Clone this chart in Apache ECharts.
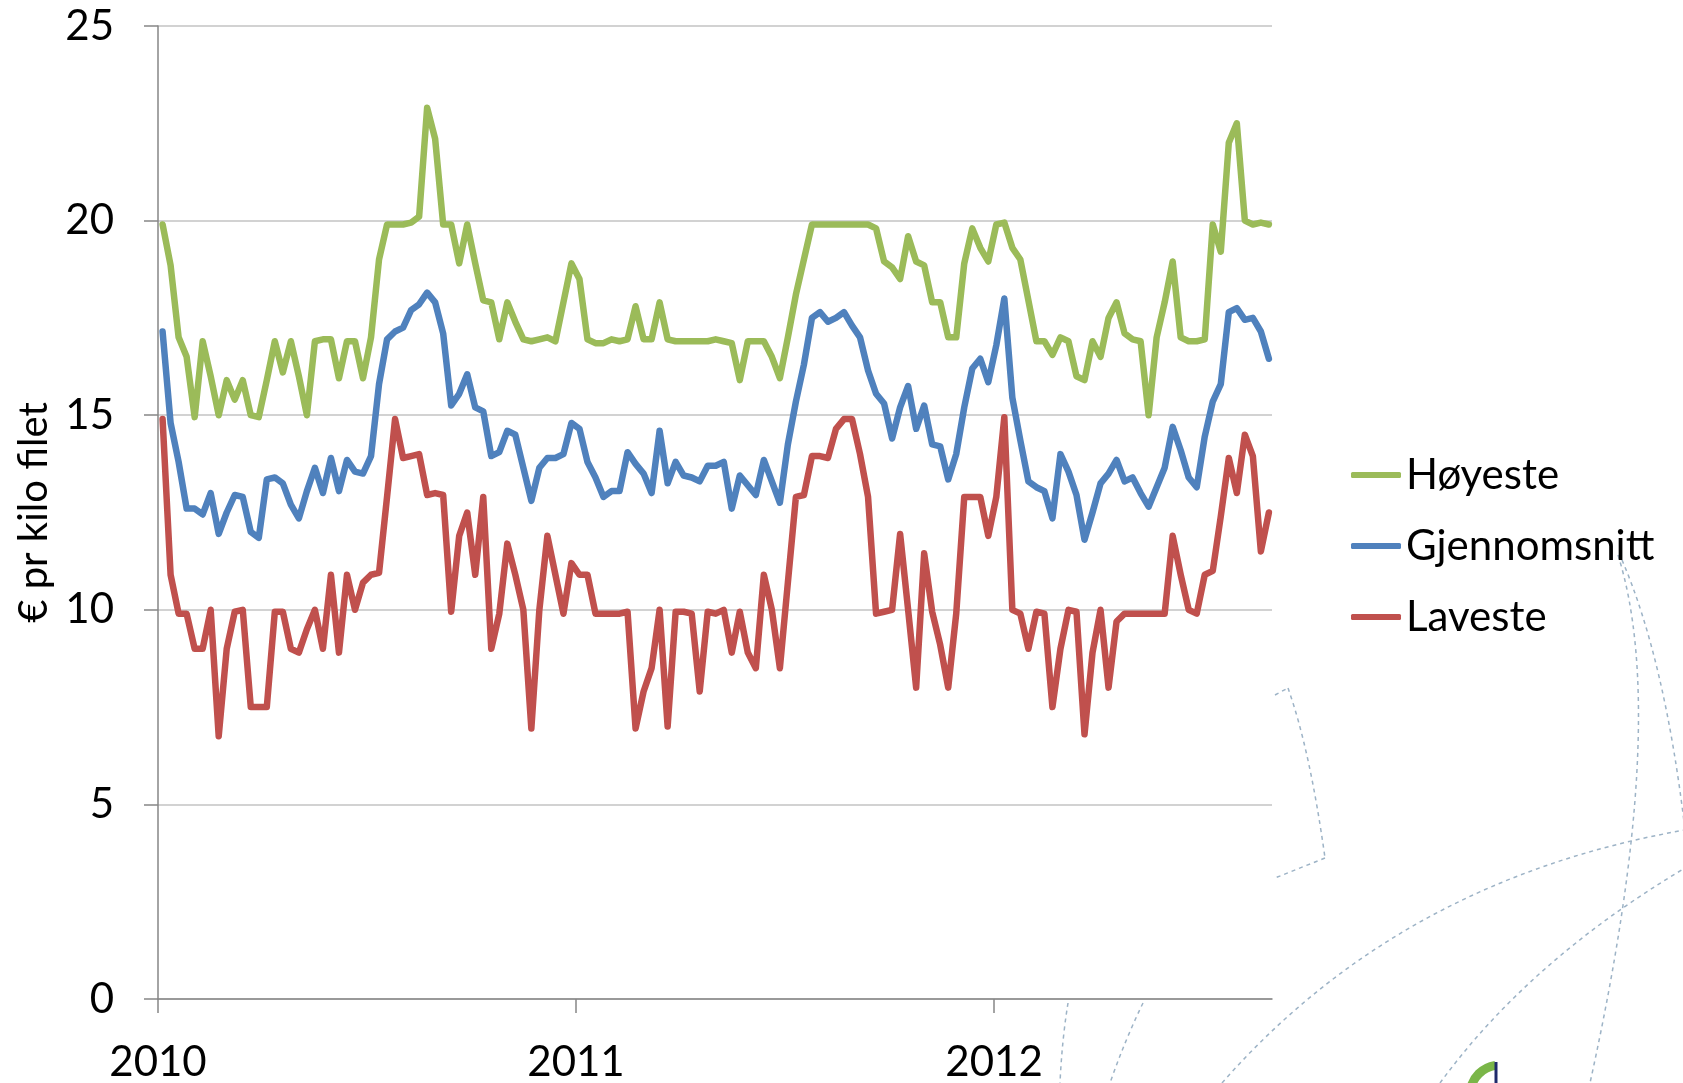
<!DOCTYPE html>
<html>
<head>
<meta charset="utf-8">
<script src="https://cdn.jsdelivr.net/npm/echarts@6/dist/echarts.min.js"></script>
<style>
html,body{margin:0;padding:0;background:#fff;}
#chart{width:1683px;height:1083px;}
</style>
</head>
<body>
<div id="chart"></div>
<script>
// Weekly observations, first week of 2010 onward
const seriesNames = ['Høyeste', 'Gjennomsnitt', 'Laveste'];
const yearTicks = [2010, 2011, 2012];
const yTicks = [0, 5, 10, 15, 20, 25];
const firstDayOfYear = 4;   // day offset of first weekly observation
const daysPerStep = 7;

const hoyeste = [
  19.9,18.85,17.0,16.5,14.95,16.9,16.0,15.0,15.9,15.4,
  15.9,15.0,14.95,15.9,16.9,16.1,16.9,16.0,15.0,16.9,
  16.95,16.95,15.95,16.9,16.9,15.95,17.0,19.0,19.9,19.9,
  19.9,19.95,20.1,22.9,22.1,19.9,19.9,18.9,19.9,18.9,
  17.95,17.9,16.95,17.9,17.4,16.95,16.9,16.95,17.0,16.9,
  17.9,18.9,18.5,16.95,16.85,16.85,16.95,16.9,16.95,17.8,
  16.95,16.95,17.9,16.95,16.9,16.9,16.9,16.9,16.9,16.95,
  16.9,16.85,15.9,16.9,16.9,16.9,16.5,15.95,17.0,18.1,
  19.0,19.9,19.9,19.9,19.9,19.9,19.9,19.9,19.9,19.8,
  18.95,18.8,18.5,19.6,18.95,18.85,17.9,17.9,17.0,17.0,
  18.9,19.8,19.3,18.95,19.9,19.95,19.3,19.0,17.95,16.9,
  16.9,16.55,17.0,16.9,16.0,15.9,16.9,16.5,17.5,17.9,
  17.1,16.95,16.9,15.0,17.0,17.9,18.95,17.0,16.9,16.9,
  16.95,19.9,19.2,22.0,22.5,20.0,19.9,19.95,19.9
];
const gjennomsnitt = [
  17.15,14.8,13.8,12.6,12.6,12.45,13.0,11.95,12.5,12.95,
  12.9,12.0,11.85,13.35,13.4,13.25,12.7,12.35,13.05,13.65,
  13.0,13.9,13.05,13.85,13.55,13.5,13.95,15.8,16.95,17.15,
  17.25,17.7,17.85,18.15,17.9,17.1,15.25,15.55,16.05,15.2,
  15.1,13.95,14.05,14.6,14.5,13.65,12.8,13.65,13.9,13.9,
  14.0,14.8,14.65,13.8,13.4,12.9,13.05,13.05,14.05,13.75,
  13.5,13.0,14.6,13.25,13.8,13.45,13.4,13.3,13.7,13.7,
  13.8,12.6,13.45,13.2,12.95,13.85,13.3,12.75,14.25,15.35,
  16.3,17.5,17.65,17.4,17.5,17.65,17.3,17.0,16.15,15.55,
  15.3,14.4,15.2,15.75,14.65,15.25,14.25,14.2,13.35,14.0,
  15.2,16.2,16.45,15.85,16.8,18.0,15.45,14.35,13.3,13.15,
  13.05,12.35,14.0,13.55,12.95,11.8,12.5,13.25,13.5,13.85,
  13.3,13.4,13.0,12.65,13.15,13.65,14.7,14.1,13.4,13.15,
  14.45,15.35,15.8,17.65,17.75,17.45,17.5,17.15,16.45
];
const laveste = [
  14.9,10.9,9.9,9.9,9.0,9.0,10.0,6.75,9.0,9.95,
  10.0,7.5,7.5,7.5,9.95,9.95,9.0,8.9,9.5,10.0,
  9.0,10.9,8.9,10.9,10.0,10.7,10.9,10.95,12.9,14.9,
  13.9,13.95,14.0,12.95,13.0,12.95,9.95,11.9,12.5,10.9,
  12.9,9.0,9.9,11.7,10.9,10.0,6.95,10.0,11.9,10.9,
  9.9,11.2,10.9,10.9,9.9,9.9,9.9,9.9,9.95,6.95,
  7.9,8.5,10.0,7.0,9.95,9.95,9.9,7.9,9.95,9.9,
  10.0,8.9,9.95,8.9,8.5,10.9,10.0,8.5,10.7,12.9,
  12.95,13.95,13.95,13.9,14.65,14.9,14.9,14.0,12.9,9.9,
  9.95,10.0,11.95,10.0,8.0,11.45,9.95,9.1,8.0,9.9,
  12.9,12.9,12.9,11.9,12.9,14.95,10.0,9.9,9.0,9.95,
  9.9,7.5,9.0,10.0,9.95,6.8,8.9,10.0,8.0,9.7,
  9.9,9.9,9.9,9.9,9.9,9.9,11.9,10.9,10.0,9.9,
  10.9,11.0,12.4,13.9,13.0,14.5,13.95,11.5,12.5
];

const weekPos = hoyeste.map((_, i) => yearTicks[0] + (firstDayOfYear + daysPerStep * i) / 365);
const pairs = arr => arr.map((v, i) => [weekPos[i], v]);

const colors = ['#9bbb59', '#4f81bd', '#c0504d'];
const FONT = 'Lato';

const chart = echarts.init(document.getElementById('chart'), null, {renderer: 'canvas'});

const dashed = {stroke: '#9db3c6', lineWidth: 1.5, lineDash: [4, 4], fill: null};

const option = {
  backgroundColor: '#ffffff',
  animation: false,
  color: colors,
  grid: {left: 158, right: 411, top: 26, bottom: 80, containLabel: false},
  legend: {
    orient: 'vertical',
    left: 1346,
    top: 445,
    itemWidth: 50,
    itemHeight: 6,
    itemGap: 21,
    icon: 'roundRect',
    textStyle: {fontFamily: FONT, fontSize: 42, color: '#000', lineHeight: 50},
    data: seriesNames
  },
  xAxis: {
    type: 'value',
    min: yearTicks[0],
    max: 2012.665,
    interval: 1,
    axisLine: {show: true, lineStyle: {color: '#868686', width: 1.5}},
    axisTick: {show: true, length: 14, lineStyle: {color: '#868686', width: 1.5}, customValues: yearTicks},
    splitLine: {show: false},
    axisLabel: {
      fontFamily: FONT, fontSize: 42, color: '#000', margin: 42,
      customValues: yearTicks,
      formatter: v => String(Math.round(v))
    }
  },
  yAxis: {
    type: 'value',
    min: yTicks[0],
    max: yTicks[yTicks.length - 1],
    interval: 5,
    name: '€ pr kilo filet',
    nameLocation: 'middle',
    nameRotate: 90,
    nameGap: 102,
    nameTextStyle: {fontFamily: FONT, fontSize: 40, color: '#000'},
    axisLine: {show: true, lineStyle: {color: '#868686', width: 1.5}},
    axisTick: {show: true, length: 14, lineStyle: {color: '#868686', width: 1.5}},
    splitLine: {show: true, lineStyle: {color: '#c3c3c3', width: 1.5}},
    axisLabel: {fontFamily: FONT, fontSize: 42, color: '#000', margin: 44}
  },
  series: [
    {name: seriesNames[0], data: pairs(hoyeste)},
    {name: seriesNames[1], data: pairs(gjennomsnitt)},
    {name: seriesNames[2], data: pairs(laveste)}
  ].map((s, k) => Object.assign(s, {
    type: 'line',
    showSymbol: false,
    symbol: 'none',
    smooth: false,
    lineStyle: {width: 6.5, color: colors[k], cap: 'round', join: 'round'},
    z: 3 - k
  })),
  graphic: [
    {type: 'polyline', silent: true, shape: {points: [[1275,695],[1288,688]]}, style: dashed},
    {type: 'bezierCurve', silent: true, shape: {x1:1288,y1:688,cpx1:1310,cpy1:750,x2:1325,y2:858}, style: dashed},
    {type: 'polyline', silent: true, shape: {points: [[1325,858],[1275,878]]}, style: dashed},
    {type: 'bezierCurve', silent: true, shape: {x1:1618,y1:555,cpx1:1670,cpy1:720,x2:1590,y2:1083}, style: dashed},
    {type: 'bezierCurve', silent: true, shape: {x1:1622,y1:560,cpx1:1665,cpy1:660,x2:1685,y2:830}, style: dashed},
    {type: 'bezierCurve', silent: true, shape: {x1:1222,y1:1083,cpx1:1400,cpy1:880,x2:1685,y2:830}, style: dashed},
    {type: 'bezierCurve', silent: true, shape: {x1:1440,y1:1083,cpx1:1530,cpy1:960,x2:1685,y2:868}, style: dashed},
    {type: 'bezierCurve', silent: true, shape: {x1:1068,y1:1003,cpx1:1062,cpy1:1040,x2:1060,y2:1083}, style: dashed},
    {type: 'bezierCurve', silent: true, shape: {x1:1143,y1:1003,cpx1:1125,cpy1:1040,x2:1110,y2:1083}, style: dashed},
    {type: 'arc', silent: true, shape: {cx:1500,cy:1095,r:30,startAngle:Math.PI*1.05,endAngle:Math.PI*1.45}, style: {stroke:'#7ab648', lineWidth: 9, fill: null}},
    {type: 'line', silent: true, shape: {x1:1496,y1:1062,x2:1496,y2:1083}, style: {stroke:'#1f2a6b', lineWidth: 3}}
  ]
};
chart.setOption(option);
</script>
</body>
</html>
